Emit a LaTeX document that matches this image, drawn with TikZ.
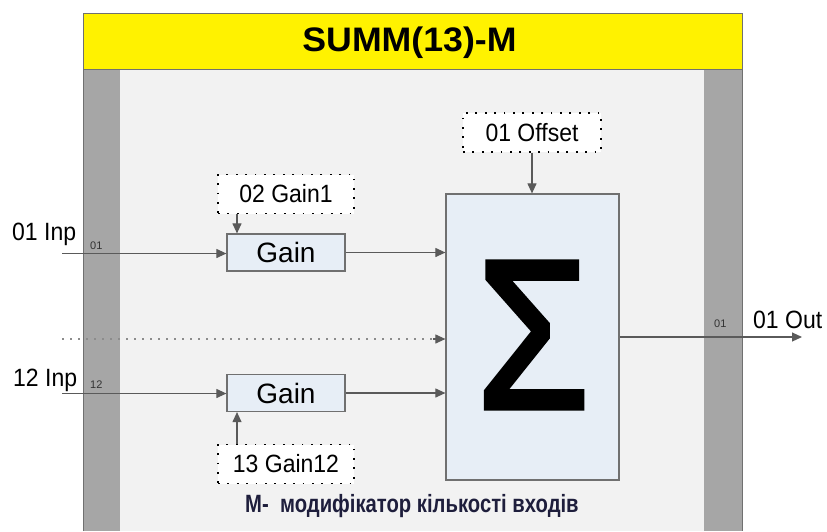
\documentclass[tikz,border=0pt]{standalone}
\usepackage{fontspec}
\setmainfont{Liberation Sans}
\newfontfamily\sigfont{Liberation Sans}[FakeBold=2.5]
\usetikzlibrary{arrows.meta}
\definecolor{barg}{HTML}{A6A6A6}
\definecolor{innerg}{HTML}{F2F2F2}
\definecolor{boxfill}{HTML}{E7EEF6}
\definecolor{boxedge}{HTML}{707070}
\definecolor{linec}{HTML}{5A5A5A}
\definecolor{captc}{HTML}{1E1E3C}
\newcommand\narrowtxt[1]{\scalebox{0.92}[1]{#1}}
\tikzset{
  blockbox/.style={draw=boxedge, line width=1.2pt, fill=boxfill, inner sep=0pt},
  parbox/.style={draw=black, line width=1.8pt, dash pattern=on 1.8pt off 7.6pt, fill=white, inner sep=0pt, minimum width=136pt, minimum height=39pt, font=\fontsize{25}{29}\selectfont},
  arr/.style={draw=linec, line width=1.1pt, -{Triangle[length=10pt,width=9pt]}},
  lbl/.style={inner sep=0pt, font=\fontsize{25}{29}\selectfont},
  pin/.style={inner sep=0pt, font=\fontsize{11}{13}\selectfont, text=black!80},
}
\begin{document}
\begin{tikzpicture}[x=1pt,y=-1pt]
\useasboundingbox (0,0) rectangle (827,531);
\fill[white] (0,0) rectangle (827,531);
% frame
\fill[innerg] (120,69) rectangle (704,531);
\fill[barg] (83,69) rectangle (120,531);
\fill[barg] (704,69) rectangle (742,531);
\draw[boxedge, line width=1pt] (83,531) -- (83,13) -- (742,13) -- (742,531);
\node[draw=boxedge, line width=1pt, fill=yellow, minimum width=659pt, minimum height=56pt, inner sep=0pt] (title) at (412.5,41) {};
\node[inner sep=0pt, anchor=base, font=\fontsize{34}{40}\selectfont\bfseries] (ttxt) at (409.5,51) {\scalebox{1.05}[1]{SUMM(13)-M}};
% sum block
\node[blockbox, minimum width=173pt, minimum height=286pt] (sum) at (532.5,337) {};
\node[inner sep=0pt, anchor=base, font=\fontsize{212}{220}\sigfont] (sig) at (533,408) {\scalebox{0.86}[1]{Σ}};
% gain blocks
\node[blockbox, minimum width=118pt, minimum height=37pt, font=\fontsize{28}{32}\selectfont] (gainA) at (286,252.5) {Gain};
\node[blockbox, minimum width=118pt, minimum height=37pt, font=\fontsize{28}{32}\selectfont] (gainB) at (286,393) {Gain};
% parameter boxes
\node[parbox] (pg1) at (286,194) {\narrowtxt{02 Gain1}};
\node[parbox] (pg12) at (286,464) {\narrowtxt{13 Gain12}};
\node[parbox, minimum width=138pt] (poff) at (532,132.5) {\narrowtxt{01 Offset}};
% coordinates
\coordinate (in1) at (62,253.5);
\coordinate (in12) at (62,393.5);
\coordinate (indots) at (62,339);
\coordinate (outend) at (802,337);
% connectors
\draw[arr] (in1) -- (in1 -| gainA.west);
\draw[arr] (in12) -- (in12 -| gainB.west);
\draw[arr] (gainA.east) -- (gainA.east -| sum.west);
\draw[arr] (gainB.east) -- (gainB.east -| sum.west);
\draw[black!45, line width=1.5pt, dash pattern=on 1.5pt off 6.5pt] (indots) -- ([xshift=-12pt]indots -| sum.west);
\draw[arr] ([xshift=-12pt]indots -| sum.west) -- (indots -| sum.west);
\draw[arr] ([xshift=-49pt]gainA.north |- pg1.south) -- ([xshift=-49pt]gainA.north);
\draw[arr] ([xshift=-49pt]gainB.south |- pg12.north) -- ([xshift=-49pt]gainB.south);
\draw[arr] (poff.south) -- (poff.south |- sum.north);
\draw[arr] (sum.east) -- (outend);
% labels
\node[lbl, anchor=base west] (l1) at (12,240) {\narrowtxt{01 Inp}};
\node[lbl, anchor=base west] (l12) at (13,386) {\narrowtxt{12 Inp}};
\node[lbl, anchor=base west] (lout) at (753,328) {\narrowtxt{01 Out}};
\node[pin, anchor=base west] (p1) at (90,249) {01};
\node[pin, anchor=base west] (p12) at (90,388) {12};
\node[pin, anchor=base west] (pout) at (714,327) {01};
\node[inner sep=0pt, anchor=base west, text=captc, font=\fontsize{25}{28}\selectfont\bfseries] (cap) at (245,512) {\scalebox{0.81}[1]{M-\ \ модифікатор кількості входів}};
\end{tikzpicture}
\end{document}
